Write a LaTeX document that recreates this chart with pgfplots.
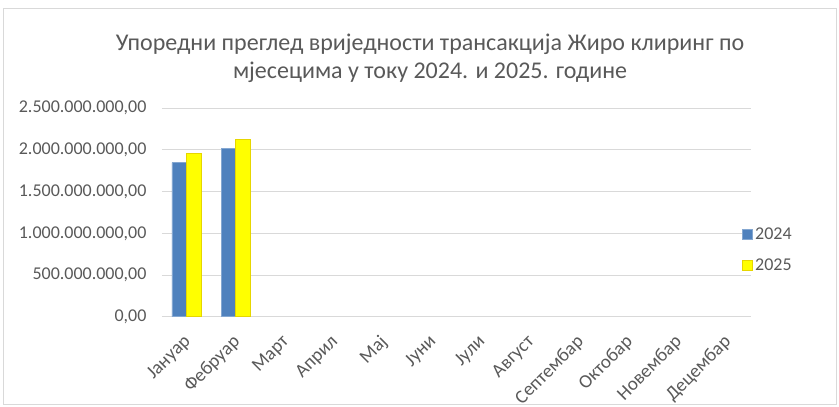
\documentclass[border=0pt]{standalone}
\usepackage{fontspec}
\setmainfont{Carlito}
\usepackage{pgfplots}
\pgfplotsset{compat=1.18}
\definecolor{barblue}{HTML}{4F81BD}
\definecolor{baryellow}{HTML}{FFFF00}
\definecolor{yedge}{HTML}{E6D600}
\definecolor{gridgray}{HTML}{D9D9D9}
\definecolor{txtgray}{HTML}{595959}
\begin{document}
\begin{tikzpicture}[x=1pt,y=1pt]
\useasboundingbox (0,0) rectangle (839,407);
\draw[gridgray, line width=1pt] (3,2) rectangle (836,398);
\node[align=center, text=txtgray, font=\fontsize{24}{28}\selectfont] at (430,349)
  {Упоредни преглед вриједности трансакција Жиро клиринг по\\мјесецима у току 2024. и 2025. године};
\begin{axis}[
    at={(162pt,90.3pt)}, anchor=south west,
    scale only axis,
    width=589pt, height=208.4pt,
    ybar=0pt, bar width=14.6pt,
    xmin=-0.5, xmax=11.5,
    ymin=0, ymax=2500000000,
    xtick={0,...,11},
    xticklabels={Јануар, Фебруар, Март, Април, Мај, Јуни, Јули, Август, Септембар, Октобар, Новембар, Децембар},
    x tick label style={xshift=-4pt, yshift=-12pt, rotate=45, anchor=north east, font=\fontsize{19}{21}\selectfont, text=txtgray},
    ytick={0,500000000,1000000000,1500000000,2000000000,2500000000},
    scaled y ticks=false,
    yticklabel style={font=\fontsize{18}{20}\selectfont, text=txtgray, xshift=-12pt,
      /pgf/number format/.cd, fixed, fixed zerofill, precision=2, use comma, 1000 sep={.}, assume math mode=true},
    ymajorgrids=true,
    grid style={gridgray, line width=1pt},
    axis x line*=bottom,
    axis y line*=left,
    y axis line style={draw=none},
    x axis line style={gridgray, line width=1pt, -},
    major tick length=0pt,
    legend style={at={(1.0,0.5)}, anchor=west, xshift=-12pt, yshift=-37pt, draw=none, fill=none,
      font=\fontsize{18}{20}\selectfont, text=txtgray, row sep=14pt,
      /tikz/every even column/.append style={column sep=2pt}},
    legend image code/.code={\draw[#1] (0pt,-5pt) rectangle (10pt,5pt);},
    clip=false,
]
\addplot[fill=barblue, draw=barblue!70!white, line width=0.5pt] coordinates {(0,1848000000) (1,2021000000)};
\addplot[fill=baryellow, draw=yedge, line width=1pt] coordinates {(0,1952000000) (1,2129000000)};
\legend{2024, 2025}
\end{axis}
\end{tikzpicture}
\end{document}
